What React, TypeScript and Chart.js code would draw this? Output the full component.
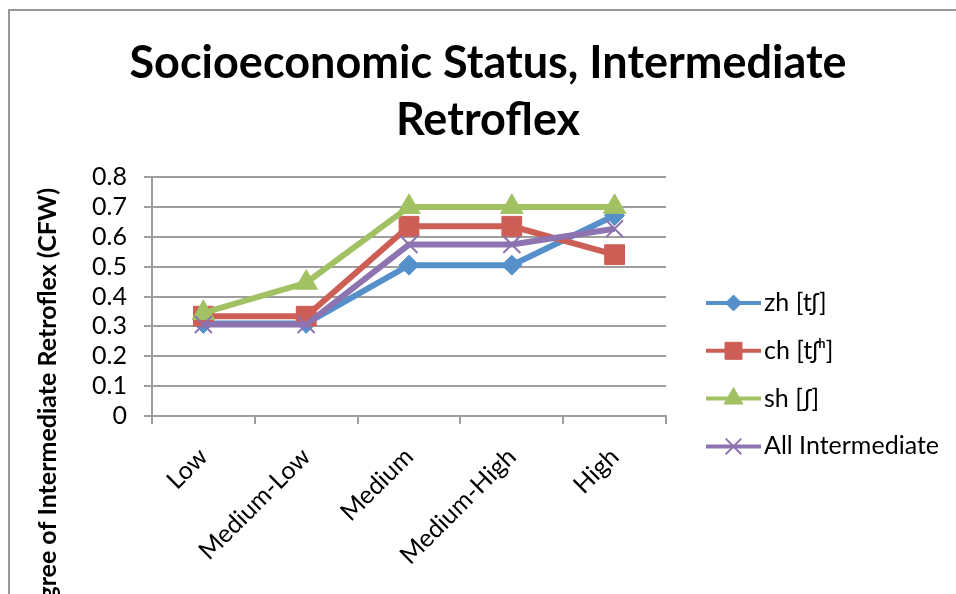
import { useEffect, useRef } from 'react';
import { Chart, registerables } from 'chart.js';
import { drawPoint } from 'chart.js/helpers';

Chart.register(...registerables);

// Socioeconomic status groups on the x axis
const categories = ['Low', 'Medium-Low', 'Medium', 'Medium-High', 'High'];

// Degree of intermediate retroflex (CFW) per series
const zhValues = [0.31, 0.31, 0.505, 0.505, 0.671];
const chValues = [0.334, 0.334, 0.635, 0.635, 0.54];
const shValues = [0.345, 0.446, 0.7, 0.7, 0.7];
const allValues = [0.306, 0.306, 0.574, 0.574, 0.627];

const seriesLabels = ['zh [tʃ]', 'ch [tʃʰ]', 'sh [ʃ]', 'All Intermediate'];
const yTicks = [0, 0.1, 0.2, 0.3, 0.4, 0.5, 0.6, 0.7, 0.8];

const titleLines = ['Socioeconomic Status, Intermediate', 'Retroflex'];
const yAxisTitle = 'Degree of Intermediate Retroflex (CFW)';

const FONT = 'Lato, "DejaVu Sans", sans-serif';
const GRID = '#9e9e9e';

const colors = ['#5590CB', '#CD5E56', '#A2C163', '#8D73B0'];
const pointStyles = ['rectRot', 'rect', 'triangle', 'crossRot'];
const pointRadii = [10, 14, 13, 12];
const legendRadii = [8, 12, 11, 11];

// Rotated value-axis title, anchored at its end near the top of the plot
const yTitlePlugin = {
  id: 'yAxisTitle',
  afterDraw(chart: any) {
    const ctx = chart.ctx;
    ctx.save();
    ctx.translate(38, 177);
    ctx.rotate(-Math.PI / 2);
    ctx.font = `bold 25px ${FONT}`;
    ctx.fillStyle = '#000';
    ctx.textAlign = 'right';
    ctx.textBaseline = 'middle';
    ctx.fillText(yAxisTitle, 0, 0);
    ctx.restore();
  },
};

// Legend entries drawn as a short line with the series marker on it
const lineLegendPlugin = {
  id: 'lineLegend',
  afterDraw(chart: any) {
    const ctx = chart.ctx;
    const x0 = 696;
    const x1 = 751;
    chart.data.datasets.forEach((ds: any, i: number) => {
      const y = 292 + i * 47.8;
      ctx.save();
      ctx.strokeStyle = ds.borderColor;
      ctx.lineWidth = 4;
      ctx.beginPath();
      ctx.moveTo(x0, y);
      ctx.lineTo(x1, y);
      ctx.stroke();
      ctx.fillStyle = ds.pointBackgroundColor;
      ctx.strokeStyle = ds.pointBorderColor;
      ctx.lineWidth = ds.pointBorderWidth;
      drawPoint(
        ctx,
        {
          pointStyle: ds.pointStyle,
          radius: legendRadii[i],
          borderWidth: ds.pointBorderWidth,
          rotation: 0,
        } as any,
        (x0 + x1) / 2,
        y
      );
      ctx.fillStyle = '#000';
      ctx.font = `25px ${FONT}`;
      ctx.textAlign = 'left';
      ctx.textBaseline = 'middle';
      ctx.fillText(ds.label, 754, y);
      ctx.restore();
    });
  },
};

export default function App() {
  const canvasRef = useRef<HTMLCanvasElement | null>(null);

  useEffect(() => {
    const canvas = canvasRef.current;
    if (!canvas) return;
    const seriesValues = [zhValues, chValues, shValues, allValues];
    const chart = new Chart(canvas, {
      type: 'line',
      data: {
        labels: categories,
        datasets: seriesValues.map((values, i) => ({
          label: seriesLabels[i],
          data: values,
          borderColor: colors[i],
          backgroundColor: colors[i],
          borderWidth: 6,
          tension: 0,
          pointStyle: pointStyles[i] as any,
          pointRadius: pointRadii[i],
          pointBackgroundColor: colors[i],
          pointBorderColor: colors[i],
          pointBorderWidth: i === 3 ? 2 : 1,
          // later series are painted on top of earlier ones
          order: seriesValues.length - 1 - i,
          clip: false as any,
        })),
      },
      options: {
        animation: false,
        responsive: false,
        devicePixelRatio: 1,
        layout: { padding: 0 },
        plugins: {
          legend: { display: false },
          tooltip: { enabled: false },
          title: {
            display: true,
            text: titleLines,
            color: '#000',
            font: { family: FONT, size: 45, weight: 'bold', lineHeight: 57 / 45 },
            padding: { top: 24, bottom: 28 },
          },
        },
        scales: {
          x: {
            offset: true,
            grid: {
              offset: true,
              drawOnChartArea: false,
              drawTicks: true,
              tickLength: 8,
              color: GRID,
              lineWidth: 2,
            },
            border: { display: true, color: GRID, width: 2 },
            ticks: {
              autoSkip: false,
              minRotation: 45,
              maxRotation: 45,
              padding: 18,
              color: '#000',
              font: { family: FONT, size: 25 },
            },
            afterFit: (scale: any) => {
              scale.height = 235;
            },
          },
          y: {
            min: 0,
            max: 0.8,
            afterBuildTicks: (axis: any) => {
              axis.ticks = yTicks.map((v) => ({ value: v }));
            },
            grid: { color: GRID, lineWidth: 2, tickLength: 8, drawTicks: true },
            border: { display: true, color: GRID, width: 2 },
            ticks: {
              autoSkip: false,
              padding: 17,
              color: '#000',
              font: { family: FONT, size: 25 },
            },
            afterFit: (scale: any) => {
              scale.width = 142;
            },
          },
          // empty right-hand axis that reserves room for the legend column
          legendSpace: {
            type: 'linear',
            position: 'right',
            display: true,
            grid: { display: false, drawTicks: false },
            border: { display: false },
            ticks: { display: false },
            afterFit: (scale: any) => {
              scale.width = 300;
            },
          },
        },
      },
      plugins: [yTitlePlugin, lineLegendPlugin],
    });
    return () => chart.destroy();
  }, []);

  return (
    <div
      style={{
        position: 'fixed',
        left: 0,
        top: 0,
        width: 956,
        height: 594,
        overflow: 'hidden',
        background: '#fff',
      }}
    >
      <div
        style={{
          position: 'absolute',
          left: 8,
          top: 9,
          width: 1000,
          height: 700,
          borderLeft: '2px solid #969696',
          borderTop: '2px solid #969696',
        }}
      >
        <canvas
          ref={canvasRef}
          width={956}
          height={640}
          style={{ display: 'block', width: 956, height: 640 }}
        />
      </div>
    </div>
  );
}
